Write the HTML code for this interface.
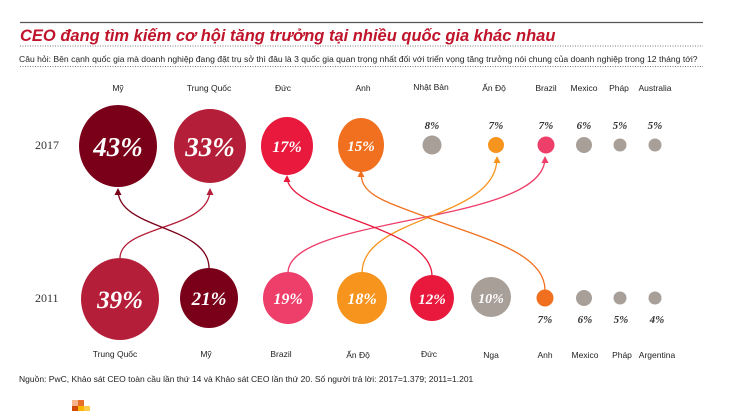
<!DOCTYPE html><html><head><meta charset="utf-8"><style>
html,body{margin:0;padding:0;background:#fff}
body{width:730px;height:411px;overflow:hidden}
</style></head><body>
<svg width="730" height="411" viewBox="0 0 730 411" xmlns="http://www.w3.org/2000/svg" font-family="Liberation Sans, sans-serif">
<defs>
<marker id="a1" markerWidth="7" markerHeight="7" refX="5" refY="3.5" orient="auto" markerUnits="userSpaceOnUse"><path d="M0,0 L7,3.5 L0,7z" fill="#7a0019"/></marker>
<marker id="a2" markerWidth="7" markerHeight="7" refX="5" refY="3.5" orient="auto" markerUnits="userSpaceOnUse"><path d="M0,0 L7,3.5 L0,7z" fill="#b41e38"/></marker>
<marker id="a3" markerWidth="7" markerHeight="7" refX="5" refY="3.5" orient="auto" markerUnits="userSpaceOnUse"><path d="M0,0 L7,3.5 L0,7z" fill="#e8193c"/></marker>
<marker id="a4" markerWidth="7" markerHeight="7" refX="5" refY="3.5" orient="auto" markerUnits="userSpaceOnUse"><path d="M0,0 L7,3.5 L0,7z" fill="#f07020"/></marker>
<marker id="a5" markerWidth="7" markerHeight="7" refX="5" refY="3.5" orient="auto" markerUnits="userSpaceOnUse"><path d="M0,0 L7,3.5 L0,7z" fill="#f7941d"/></marker>
<marker id="a6" markerWidth="7" markerHeight="7" refX="5" refY="3.5" orient="auto" markerUnits="userSpaceOnUse"><path d="M0,0 L7,3.5 L0,7z" fill="#ee3e6a"/></marker>
</defs>
<line x1="20" y1="22.5" x2="703" y2="22.5" stroke="#555" stroke-width="1.2"/>
<text x="20" y="41" font-size="16.5" font-weight="bold" font-style="italic" fill="#c0142b">CEO đang tìm kiếm cơ hội tăng trưởng tại nhiều quốc gia khác nhau</text>
<line x1="20" y1="46" x2="703" y2="46" stroke="#777" stroke-dasharray="1,1.5"/>
<text x="19" y="62" font-size="8.6" fill="#222">Câu hỏi: Bên cạnh quốc gia mà doanh nghiệp đang đặt trụ sở thì đâu là 3 quốc gia quan trọng nhất đối với triển vọng tăng trưởng nói chung của doanh nghiệp trong 12 tháng tới?</text>
<line x1="20" y1="66.5" x2="703" y2="66.5" stroke="#777" stroke-dasharray="1,1.5"/>

<g font-size="8.5" fill="#222" text-anchor="middle">
<text x="118" y="91">Mỹ</text><text x="209" y="91">Trung Quốc</text><text x="283" y="91">Đức</text><text x="363" y="91">Anh</text><text x="431" y="90">Nhật Bản</text><text x="494" y="91">Ấn Độ</text><text x="546" y="91">Brazil</text><text x="584" y="91">Mexico</text><text x="619" y="91">Pháp</text><text x="655" y="91">Australia</text>
</g>
<g font-size="8.5" fill="#222" text-anchor="middle">
<text x="115" y="357">Trung Quốc</text><text x="206" y="357">Mỹ</text><text x="281" y="357">Brazil</text><text x="358" y="358">Ấn Độ</text><text x="429" y="357">Đức</text><text x="491" y="358">Nga</text><text x="545" y="358">Anh</text><text x="585" y="358">Mexico</text><text x="622" y="358">Pháp</text><text x="657" y="358">Argentina</text>
</g>
<g font-family="Liberation Serif, serif" font-size="12" fill="#333">
<text x="35" y="149">2017</text><text x="35" y="302">2011</text>
</g>

<g fill="none" stroke-width="1.3">
<path d="M120,258 C120,225 210,230 210,190" stroke="#b41e38" marker-end="url(#a2)"/>
<path d="M209,268 C209,225 118,230 118,190" stroke="#7a0019" marker-end="url(#a1)"/>
<path d="M288,273 C288,215 545,225 545,158" stroke="#ee3e6a" marker-end="url(#a6)"/>
<path d="M362,273 C362,215 497,220 497,158" stroke="#f7941d" marker-end="url(#a5)"/>
<path d="M432,276 C432,225 287,215 287,177" stroke="#e8193c" marker-end="url(#a3)"/>
<path d="M545,290 C545,255 490,240 440,222 C380,200 361,195 361,172" stroke="#f07020" marker-end="url(#a4)"/>
</g>

<ellipse cx="118" cy="146" rx="39" ry="41" fill="#7a0019"/>
<ellipse cx="210" cy="146" rx="36" ry="37" fill="#b41e38"/>
<ellipse cx="287" cy="146" rx="26" ry="29" fill="#e8193c"/>
<ellipse cx="361" cy="145" rx="23" ry="27" fill="#f07020"/>
<circle cx="432" cy="145" r="9.5" fill="#a89f98"/>
<circle cx="496" cy="145" r="8" fill="#f7941d"/>
<circle cx="546" cy="145" r="8.5" fill="#ee3e6a"/>
<circle cx="584" cy="145" r="8" fill="#a89f98"/>
<circle cx="620" cy="145" r="6.5" fill="#a89f98"/>
<circle cx="655" cy="145" r="6.5" fill="#a89f98"/>

<ellipse cx="120" cy="299" rx="39" ry="41" fill="#b41e38"/>
<ellipse cx="209" cy="298" rx="29" ry="30" fill="#7a0019"/>
<ellipse cx="288" cy="298" rx="25" ry="26" fill="#ee3e6a"/>
<ellipse cx="362" cy="298" rx="25" ry="26" fill="#f7941d"/>
<ellipse cx="432" cy="298" rx="22" ry="23" fill="#e8193c"/>
<ellipse cx="491" cy="297" rx="20" ry="20" fill="#a89f98"/>
<circle cx="545" cy="298" r="8.5" fill="#f07020"/>
<circle cx="584" cy="298" r="8" fill="#a89f98"/>
<circle cx="620" cy="298" r="6.5" fill="#a89f98"/>
<circle cx="655" cy="298" r="6.5" fill="#a89f98"/>

<g font-family="Liberation Serif, serif" font-style="italic" font-weight="bold" fill="#fff" text-anchor="middle">
<text x="118" y="156" font-size="27">43%</text>
<text x="210" y="156" font-size="27">33%</text>
<text x="287" y="152" font-size="16">17%</text>
<text x="361" y="151" font-size="15">15%</text>
<text x="120" y="308" font-size="25">39%</text>
<text x="209" y="305" font-size="19">21%</text>
<text x="288" y="304" font-size="16">19%</text>
<text x="362" y="304" font-size="16">18%</text>
<text x="432" y="304" font-size="15">12%</text>
<text x="491" y="303" font-size="14">10%</text>
</g>
<g font-family="Liberation Serif, serif" font-style="italic" font-weight="bold" fill="#333" text-anchor="middle" font-size="11">
<text x="432" y="129">8%</text><text x="496" y="129">7%</text><text x="546" y="129">7%</text><text x="584" y="129">6%</text><text x="620" y="129">5%</text><text x="655" y="129">5%</text>
<text x="545" y="323">7%</text><text x="585" y="323">6%</text><text x="621" y="323">5%</text><text x="657" y="323">4%</text>
</g>

<text x="19" y="382" font-size="8.5" fill="#222">Nguồn: PwC, Khảo sát CEO toàn cầu lần thứ 14 và Khảo sát CEO lần thứ 20. Số người trả lời: 2017=1.379; 2011=1.201</text>

<rect x="72" y="400" width="6" height="6" fill="#f5b48a"/>
<rect x="78" y="400" width="6" height="6" fill="#e8702a"/>
<rect x="72" y="406" width="6" height="5" fill="#d04a02"/>
<rect x="78" y="406" width="6" height="5" fill="#ffb600"/>
<rect x="84" y="406" width="6" height="5" fill="#ffcc4d"/>
</svg>
</body></html>
